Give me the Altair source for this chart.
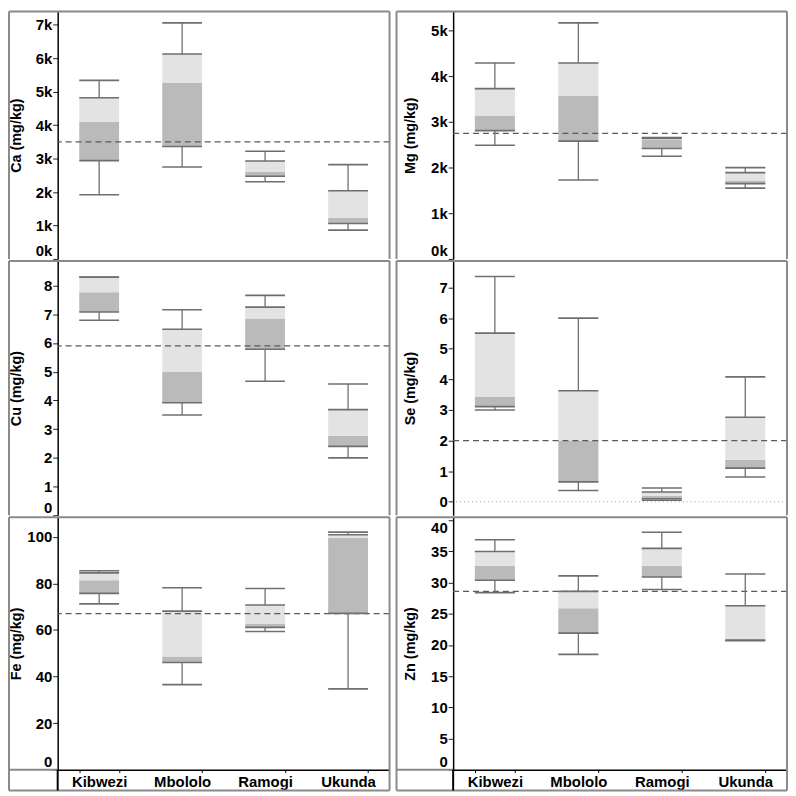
import altair as alt
import pandas as pd

sites = ["Kibwezi", "Mbololo", "Ramogi", "Ukunda"]

# box statistics: min, q1, median, q3, max  (per site)
ca_min = [1920, 2750, 2310, 860]
ca_q1 = [2940, 3360, 2470, 1060]
ca_med = [4100, 5260, 2600, 1220]
ca_q3 = [4820, 6130, 2930, 2040]
ca_max = [5340, 7060, 3220, 2820]
ca_ref = 3500

mg_min = [2490, 1730, 2250, 1550]
mg_q1 = [2810, 2580, 2420, 1650]
mg_med = [3140, 3580, 2620, 1720]
mg_q3 = [3730, 4290, 2645, 1890]
mg_max = [4290, 5170, 2660, 2000]
mg_ref = 2750

cu_min = [6.79, 3.49, 4.67, 2.00]
cu_q1 = [7.08, 3.92, 5.78, 2.40]
cu_med = [7.77, 4.99, 6.85, 2.77]
cu_q3 = [8.29, 6.48, 7.25, 3.68]
cu_max = [8.30, 7.16, 7.66, 4.57]
cu_ref = 5.9

se_min = [3.00, 0.37, 0.05, 0.81]
se_q1 = [3.11, 0.65, 0.10, 1.10]
se_med = [3.42, 2.00, 0.20, 1.37]
se_q3 = [5.51, 3.63, 0.32, 2.76]
se_max = [7.36, 6.00, 0.45, 4.08]
se_ref = 2.0

fe_min = [71.2, 36.5, 59.3, 34.7]
fe_q1 = [75.7, 46.0, 61.1, 67.1]
fe_med = [81.3, 48.6, 62.6, 99.6]
fe_q3 = [84.5, 68.1, 70.7, 100.9]
fe_max = [85.4, 78.1, 77.8, 102.0]
fe_ref = 67

zn_min = [28.4, 18.5, 28.9, 20.7]
zn_q1 = [30.4, 21.9, 30.9, 20.75]
zn_med = [32.7, 25.9, 32.7, 20.95]
zn_q3 = [35.0, 28.6, 35.5, 26.3]
zn_max = [36.9, 31.1, 38.1, 31.4]
zn_ref = 28.6

ca_ticks = [0, 1000, 2000, 3000, 4000, 5000, 6000, 7000]
mg_ticks = [0, 1000, 2000, 3000, 4000, 5000]
cu_ticks = [0, 1, 2, 3, 4, 5, 6, 7, 8]
se_ticks = [0, 1, 2, 3, 4, 5, 6, 7]
fe_ticks = [0, 20, 40, 60, 80, 100]
zn_ticks = [0, 5, 10, 15, 20, 25, 30, 35, 40]

FONT = "Liberation Sans"
DARK = "#bababa"
LIGHT = "#e3e3e3"
LINE = "#6f6f6f"
FRAME = "#8a8a8a"
PAD_IN = 0.52


def panel(title, stats, ref, domain, ticks, W, H, L, tpad, bottom, kfmt=False, zero_line=False):
    df = pd.DataFrame({"site": sites, "lo": stats[0], "q1": stats[1], "med": stats[2],
                       "q3": stats[3], "hi": stats[4]})
    bw = W / 4 * (1 - PAD_IN)
    xscale = alt.Scale(domain=sites, paddingInner=PAD_IN, paddingOuter=PAD_IN / 2)
    if bottom:
        xaxis = alt.Axis(title=None, labelAngle=0, tickBand="extent", tickSize=3, tickColor="black",
                         tickWidth=1, domainColor="black", domainWidth=1.5, labelFont=FONT,
                         labelFontSize=15, labelFontWeight="bold", labelColor="black", labelPadding=2)
    else:
        xaxis = None
    x = alt.X("site:N", scale=xscale, axis=xaxis, sort=sites)
    ykw = dict(title=title, values=ticks, grid=False, domainColor="black", domainWidth=1.5,
               tickColor="#222222", tickSize=5, tickWidth=1, labelFont=FONT, labelFontSize=15,
               labelFontWeight="bold", labelColor="black", labelPadding=1, labelFlush=5,
               labelOverlap=False, titleFont=FONT, titleFontSize=14.5, titleFontWeight="bold",
               titleColor="black", titlePadding=tpad, minExtent=30, maxExtent=30)
    if kfmt:
        ykw["labelExpr"] = "datum.value/1000 + 'k'"
    yaxis = alt.Axis(**ykw)
    yscale = alt.Scale(domain=domain, nice=False, zero=False)

    def Y(f):
        return alt.Y(f + ":Q", scale=yscale, axis=yaxis)

    base = alt.Chart(df)
    dark = base.mark_bar(color=DARK).encode(x=x, y=Y("q1"), y2="med:Q")
    light = base.mark_bar(color=LIGHT).encode(x=x, y=Y("med"), y2="q3:Q")
    wh_up = base.mark_rule(color=LINE, strokeWidth=1.3).encode(x=x, y=Y("q3"), y2="hi:Q")
    wh_dn = base.mark_rule(color=LINE, strokeWidth=1.3).encode(x=x, y=Y("lo"), y2="q1:Q")
    caps = base.transform_fold(["lo", "q1", "q3", "hi"], as_=["stat", "val"]).mark_tick(
        orient="horizontal", size=bw, thickness=1.6, color=LINE, opacity=1
    ).encode(x=x, y=Y("val"))
    refdf = pd.DataFrame({"ref": [ref]})
    refl = alt.Chart(refdf).mark_rule(color="#5a5a5a", strokeDash=[6, 4], strokeWidth=1.4).encode(y=Y("ref"))
    layers = [dark, light]
    if zero_line:
        zdf = pd.DataFrame({"zero": [0]})
        layers.append(alt.Chart(zdf).mark_rule(color="#9a9a9a", strokeDash=[1, 3], strokeWidth=1).encode(y=Y("zero")))
    layers += [refl, wh_up, wh_dn, caps]

    fd = alt.Data(values=[{"z": 0}])
    Hb = H + 21 if bottom else H

    def hr(x1, x2, yv, color=FRAME):
        return alt.Chart(fd).mark_rule(color=color, strokeWidth=2).encode(
            x=alt.value(x1), x2=alt.value(x2), y=alt.value(yv))

    def vr(xv, y1, y2, color=FRAME):
        return alt.Chart(fd).mark_rule(color=color, strokeWidth=2).encode(
            x=alt.value(xv), y=alt.value(y1), y2=alt.value(y2))

    frame = [hr(-L, W, 0), vr(-L, 0, Hb), vr(W, 0, Hb)]
    if bottom:
        frame += [hr(-L, 0, H), hr(-L, W, Hb), vr(0, H, Hb, "black")]
    return alt.layer(*layers, *frame).properties(width=W, height=H)


WL, WR = 334, 336
LL, LR = 49, 57
H1, H2, H3 = 249, 256, 254

p_ca = panel("Ca (mg/kg)", [ca_min, ca_q1, ca_med, ca_q3, ca_max], ca_ref, [0, 7400], ca_ticks,
             WL, H1, LL, 4, False, kfmt=True)
p_mg = panel("Mg (mg/kg)", [mg_min, mg_q1, mg_med, mg_q3, mg_max], mg_ref, [0, 5420], mg_ticks,
             WR, H1, LR, 6, False, kfmt=True)
p_cu = panel("Cu (mg/kg)", [cu_min, cu_q1, cu_med, cu_q3, cu_max], cu_ref, [0, 8.86], cu_ticks,
             WL, H2, LL, 4, False)
p_se = panel("Se (mg/kg)", [se_min, se_q1, se_med, se_q3, se_max], se_ref, [-0.44, 7.87], se_ticks,
             WR, H2, LR, 6, False, zero_line=True)
p_fe = panel("Fe (mg/kg)", [fe_min, fe_q1, fe_med, fe_q3, fe_max], fe_ref, [0, 108.4], fe_ticks,
             WL, H3, LL, 4, True)
p_zn = panel("Zn (mg/kg)", [zn_min, zn_q1, zn_med, zn_q3, zn_max], zn_ref, [0, 40.5], zn_ticks,
             WR, H3, LR, 6, True)

chart = alt.vconcat(
    alt.hconcat(p_ca, p_mg, spacing=5),
    alt.hconcat(p_cu, p_se, spacing=5),
    alt.hconcat(p_fe, p_zn, spacing=5),
    spacing=0,
    padding=0,
).configure_view(stroke=None)

chart.save("out.html", embed_options={"renderer": "svg", "actions": False})
